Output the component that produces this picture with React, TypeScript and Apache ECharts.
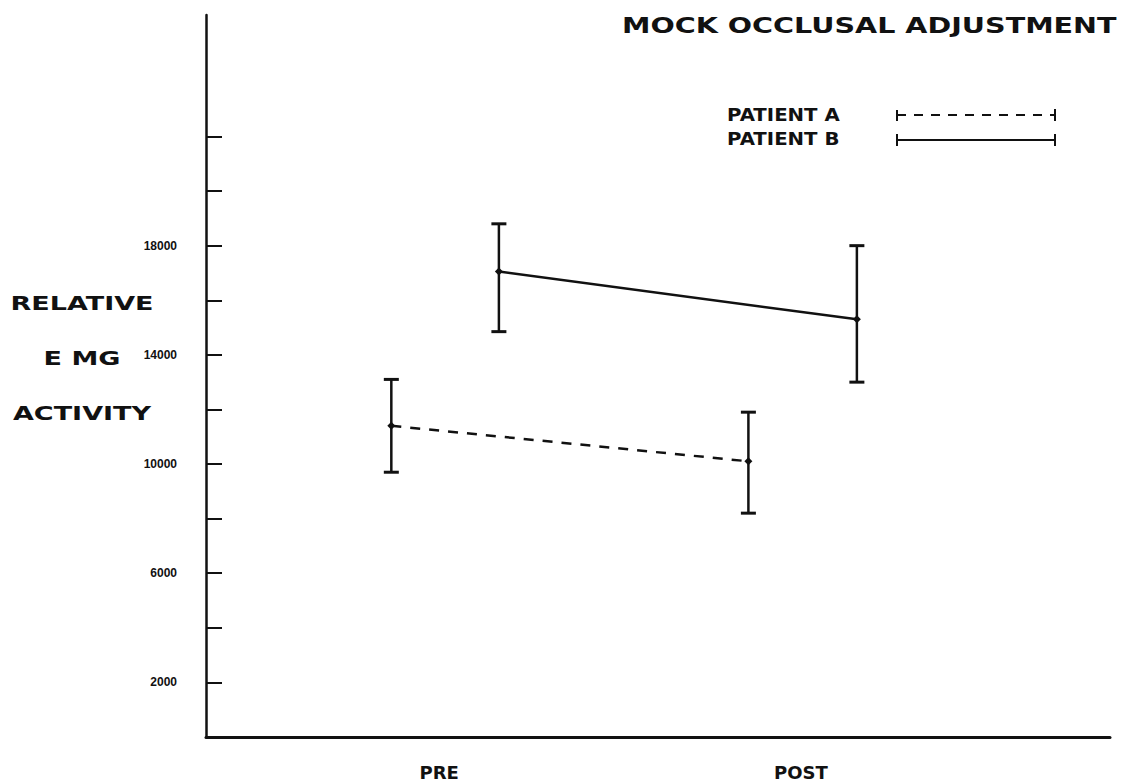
import React, { useEffect, useRef } from "react";
import * as echarts from "echarts";

// ---- data ----
const phaseLabels = ["PRE", "POST"];
const phasePos = [25.8, 65.8]; // label positions on the (0-100) horizontal scale

const patientAX = [20.5, 60.0];
const patientAMean = [11400, 10100];
const patientALow = [9700, 8200];
const patientAHigh = [13100, 11900];

const patientBX = [32.4, 72.0];
const patientBMean = [17050, 15300];
const patientBLow = [14850, 13000];
const patientBHigh = [18800, 18000];

const yTickValues = [2000, 4000, 6000, 8000, 10000, 12000, 14000, 16000, 18000, 20000, 22000];
const yLabelValues = [2000, 6000, 10000, 14000, 18000];

const INK = "#111";

function errorSeries(name: string, xs: number[], lo: number[], hi: number[]) {
  return {
    type: "custom",
    name,
    data: xs.map((x, i) => [x, lo[i], hi[i]]),
    encode: { x: 0, y: [1, 2] },
    z: 2,
    renderItem: (_params: any, api: any) => {
      const x = api.value(0);
      const pLo = api.coord([x, api.value(1)]);
      const pHi = api.coord([x, api.value(2)]);
      const w = 7.5;
      return {
        type: "group",
        children: [
          { type: "line", shape: { x1: pLo[0], y1: pLo[1], x2: pHi[0], y2: pHi[1] }, style: { stroke: INK, lineWidth: 2.5 } },
          { type: "line", shape: { x1: pLo[0] - w, y1: pLo[1], x2: pLo[0] + w, y2: pLo[1] }, style: { stroke: INK, lineWidth: 3 } },
          { type: "line", shape: { x1: pHi[0] - w, y1: pHi[1], x2: pHi[0] + w, y2: pHi[1] }, style: { stroke: INK, lineWidth: 3 } },
        ],
      };
    },
  };
}

export default function App() {
  const ref = useRef<HTMLDivElement>(null);
  useEffect(() => {
    if (!ref.current) return;
    const chart = echarts.init(ref.current, null, { renderer: "svg" });
    const bold = "DejaVu Sans";
    chart.setOption({
      animation: false,
      backgroundColor: "#fff",
      grid: { left: 206, right: 15, top: 15, bottom: 46, containLabel: false, outerBoundsMode: "none" },
      xAxis: {
        type: "value",
        min: 0,
        max: 100,
        splitLine: { show: false },
        axisLine: { show: true, lineStyle: { color: INK, width: 3 } },
        axisTick: { show: false },
        axisLabel: {
          show: true,
          customValues: phasePos,
          formatter: (v: number) => {
            const i = phasePos.findIndex((p) => Math.abs(p - v) < 1e-6);
            return i >= 0 ? phaseLabels[i] : "";
          },
          margin: 26,
          color: INK,
          fontFamily: bold,
          fontWeight: "bold",
          fontSize: 18,
        },
      },
      yAxis: {
        type: "value",
        min: 0,
        max: 26450,
        splitLine: { show: false },
        axisLine: { show: true, lineStyle: { color: INK, width: 2.5 } },
        axisTick: { show: true, inside: true, length: 16, customValues: yTickValues, lineStyle: { color: INK, width: 2 } },
        axisLabel: {
          show: true,
          customValues: yLabelValues,
          formatter: (v: number) => String(v),
          margin: 29,
          color: INK,
          fontFamily: "Liberation Sans",
          fontWeight: "bold",
          fontSize: 12,
        },
      },
      graphic: [
        {
          type: "text",
          x: 622,
          y: 25,
          scaleX: 1.3,
          style: {
            text: "MOCK OCCLUSAL ADJUSTMENT",
            fill: INK,
            font: `bold 22px "${bold}"`,
            textAlign: "left",
            textVerticalAlign: "middle",
          },
        },
        {
          type: "text",
          x: 82,
          y: 358,
          scaleX: 1.35,
          style: {
            text: "RELATIVE\nE MG\nACTIVITY",
            fill: INK,
            font: `bold 20px "${bold}"`,
            lineHeight: 55,
            textAlign: "center",
            textVerticalAlign: "middle",
          },
        },
        {
          type: "text",
          x: 727,
          y: 115,
          scaleX: 1.16,
          style: { text: "PATIENT A", fill: INK, font: `bold 17px "${bold}"`, textAlign: "left", textVerticalAlign: "middle" },
        },
        {
          type: "text",
          x: 727,
          y: 139,
          scaleX: 1.16,
          style: { text: "PATIENT B", fill: INK, font: `bold 17px "${bold}"`, textAlign: "left", textVerticalAlign: "middle" },
        },
        { type: "line", shape: { x1: 897, y1: 115, x2: 1055, y2: 115 }, style: { stroke: INK, lineWidth: 2, lineDash: [9, 8] } },
        { type: "line", shape: { x1: 897, y1: 110, x2: 897, y2: 121 }, style: { stroke: INK, lineWidth: 2 } },
        { type: "line", shape: { x1: 1055, y1: 109, x2: 1055, y2: 121 }, style: { stroke: INK, lineWidth: 2 } },
        { type: "line", shape: { x1: 897, y1: 140, x2: 1055, y2: 140 }, style: { stroke: INK, lineWidth: 2 } },
        { type: "line", shape: { x1: 897, y1: 134, x2: 897, y2: 146 }, style: { stroke: INK, lineWidth: 2 } },
        { type: "line", shape: { x1: 1055, y1: 134, x2: 1055, y2: 146 }, style: { stroke: INK, lineWidth: 2 } },
      ],
      series: [
        errorSeries("Patient A error", patientAX, patientALow, patientAHigh),
        errorSeries("Patient B error", patientBX, patientBLow, patientBHigh),
        {
          type: "line",
          name: "PATIENT A",
          data: patientAX.map((x, i) => [x, patientAMean[i]]),
          lineStyle: { color: INK, width: 2.5, type: [10, 9] },
          symbol: "diamond",
          symbolSize: 8,
          showSymbol: true,
          itemStyle: { color: INK, borderWidth: 0 },
          z: 3,
        },
        {
          type: "line",
          name: "PATIENT B",
          data: patientBX.map((x, i) => [x, patientBMean[i]]),
          lineStyle: { color: INK, width: 2.5 },
          symbol: "diamond",
          symbolSize: 8,
          showSymbol: true,
          itemStyle: { color: INK, borderWidth: 0 },
          z: 3,
        },
      ],
    });
    return () => chart.dispose();
  }, []);
  return (
    <div
      ref={ref}
      style={{ position: "fixed", left: 0, top: 0, width: 1125, height: 783, background: "#fff" }}
    />
  );
}
